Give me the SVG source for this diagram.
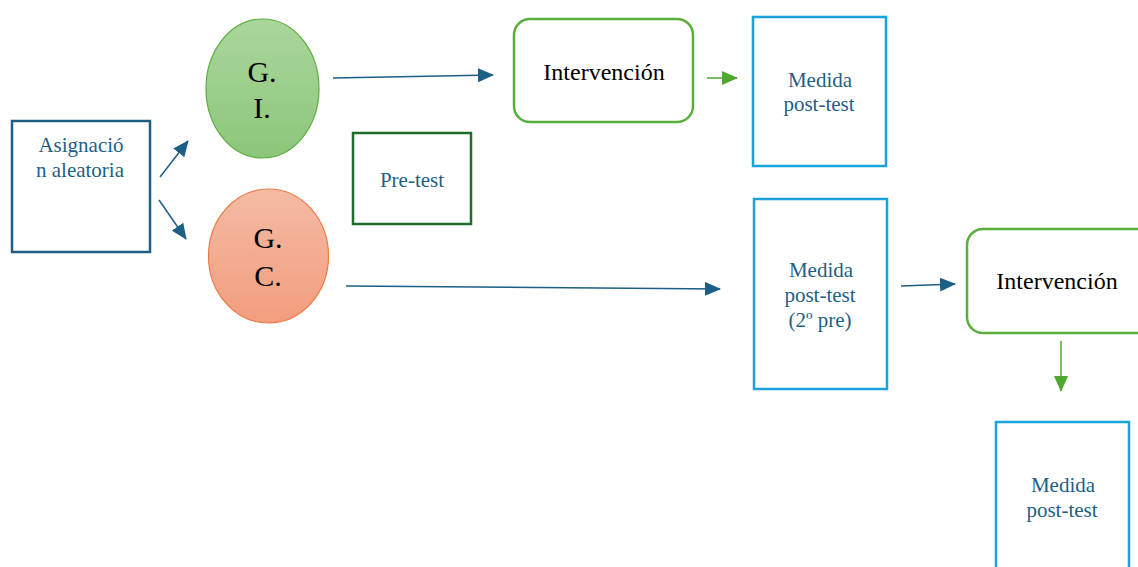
<svg xmlns="http://www.w3.org/2000/svg" width="1138" height="567" viewBox="0 0 1138 567" font-family="'Liberation Serif','Times New Roman',serif">
<style>
.t{font-family:"Liberation Serif","Times New Roman",serif;text-anchor:middle}
.blue{fill:#1F5F85;font-size:21px}
.blk{fill:#000;font-size:24px}
.big{fill:#000;font-size:30px}
.box{fill:#fff;stroke-width:2.5}
.c{stroke:#1B5E86;stroke-width:1.5;fill:none;marker-end:url(#ab)}
.g{stroke:#4EA72E;stroke-width:1.5;fill:none;marker-end:url(#ag)}
</style>
<defs>
<marker id="ab" markerUnits="userSpaceOnUse" markerWidth="16" markerHeight="14" refX="15" refY="7" orient="auto"><path d="M0,0 L16,7 L0,14 Z" fill="#1B5E86"/></marker>
<marker id="ag" markerUnits="userSpaceOnUse" markerWidth="16" markerHeight="14" refX="15" refY="7" orient="auto"><path d="M0,0 L16,7 L0,14 Z" fill="#4EA72E"/></marker>
<linearGradient id="gg" x1="0" y1="0" x2="0" y2="1"><stop offset="0" stop-color="#AAD69C"/><stop offset="1" stop-color="#8CC679"/></linearGradient>
<linearGradient id="go" x1="0" y1="0" x2="0" y2="1"><stop offset="0" stop-color="#F4BBA4"/><stop offset="1" stop-color="#F29D7D"/></linearGradient>
</defs>
<rect width="1138" height="567" fill="#fff"/>
<g id="connectors">
<line class="c" x1="160" y1="177" x2="188" y2="141"/>
<line class="c" x1="159" y1="200" x2="186" y2="239"/>
<line class="c" x1="333" y1="78" x2="493" y2="75"/>
<line class="c" x1="346" y1="286" x2="720" y2="289"/>
<line class="g" x1="707" y1="78" x2="737" y2="78"/>
<line class="c" x1="901" y1="286" x2="955" y2="284"/>
<line class="g" x1="1061" y1="341" x2="1061" y2="391"/>
</g>
<g id="asignacion">
<rect class="box" x="12" y="121" width="138" height="131" stroke="#1F5F85"/>
<text class="t blue" x="81" y="152">Asignació</text>
<text class="t blue" x="80" y="177">n aleatoria</text>
</g>
<g id="gi">
<ellipse cx="262.5" cy="88.5" rx="56.5" ry="69.5" fill="url(#gg)" stroke="#5DAE40" stroke-width="1.2"/>
<text class="t big" x="262" y="82">G.</text>
<text class="t big" x="262" y="118">I.</text>
</g>
<g id="gc">
<ellipse cx="268.5" cy="256" rx="60" ry="67" fill="url(#go)" stroke="#EA7A44" stroke-width="1.2"/>
<text class="t big" x="268" y="248">G.</text>
<text class="t big" x="268" y="286">C.</text>
</g>
<g id="pretest">
<rect class="box" x="353" y="133" width="118" height="91" stroke="#1E6E2A"/>
<text class="t blue" x="412" y="187">Pre-test</text>
</g>
<g id="intervencion1">
<rect class="box" x="514" y="19" width="179" height="103" rx="16" stroke="#5AAE3C"/>
<text class="t blk" x="604" y="80">Intervención</text>
</g>
<g id="medida1">
<rect class="box" x="753" y="17" width="133" height="149" stroke="#1AA3DB"/>
<text class="t blue" x="820" y="87">Medida</text>
<text class="t blue" x="819" y="111">post-test</text>
</g>
<g id="medida2">
<rect class="box" x="754" y="199" width="133" height="190" stroke="#1AA3DB"/>
<text class="t blue" x="821" y="277">Medida</text>
<text class="t blue" x="820" y="302">post-test</text>
<text class="t blue" x="820" y="327">(2º pre)</text>
</g>
<g id="intervencion2">
<rect class="box" x="967" y="229" width="185" height="104" rx="16" stroke="#5AAE3C"/>
<text class="t blk" x="1057" y="289">Intervención</text>
</g>
<g id="medida3">
<rect class="box" x="996" y="422" width="133" height="160" stroke="#1AA3DB"/>
<text class="t blue" x="1063" y="492">Medida</text>
<text class="t blue" x="1062" y="517">post-test</text>
</g>
</svg>
